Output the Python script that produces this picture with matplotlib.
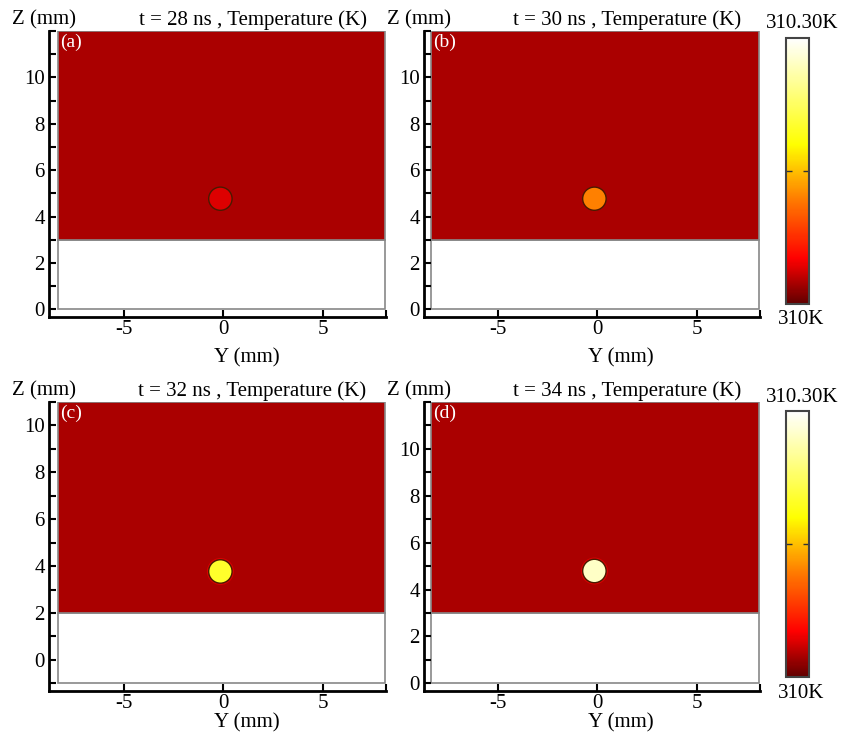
import matplotlib
matplotlib.use('Agg')
import matplotlib.pyplot as plt
from matplotlib.colors import LinearSegmentedColormap, Normalize
from matplotlib.patches import Rectangle, Ellipse
from matplotlib.ticker import MultipleLocator, FixedLocator
import matplotlib.cm as cm

plt.rcParams['font.family'] = ['Liberation Serif', 'DejaVu Serif']

# data
panel_labels = ['(a)', '(b)', '(c)', '(d)']
times_ns = [28, 30, 32, 34]
T_background = [310.024, 310.024, 310.024, 310.024]
T_sphere = [310.04, 310.12, 310.20, 310.273]
z_bottom = [0, 0, -1, 0]
z_interface = [3, 3, 2, 3]
z_top = [12, 12, 11, 12]
y_domain = [-8.35, 8.15]
sphere_y = [-0.15, -0.15, -0.15, -0.15]
sphere_z = [4.77, 4.77, 3.77, 4.79]
sphere_halo = [False, False, True, True]
T_min, T_max = 310.0, 310.30

cmap = LinearSegmentedColormap.from_list('heat', [
    (0.0, (0.38, 0.0, 0.0)),
    (0.17, (1.0, 0.0, 0.0)),
    (0.40, (1.0, 0.5, 0.0)),
    (0.60, (1.0, 1.0, 0.0)),
    (1.0, (1.0, 1.0, 1.0))])
norm = Normalize(T_min, T_max)

W, H = 848, 734
fig = plt.figure(figsize=(W / 100, H / 100), dpi=100)


def px_axes(x0, y0, x1, y1):
    return fig.add_axes([x0 / W, 1 - y1 / H, (x1 - x0) / W, (y1 - y0) / H])


# axes boxes in pixels (left, top, right, bottom)
boxes = [(49, 31, 386, 317), (424, 31, 760, 317),
         (49, 402, 386, 691), (424, 402, 760, 691)]
xlims = [(-8.79, 8.2), (-8.72, 8.18), (-8.79, 8.2), (-8.72, 8.18)]

for i in range(4):
    x0, y0, x1, y1 = boxes[i]
    ax = px_axes(x0, y0, x1, y1)
    ax.set_xlim(*xlims[i])
    ax.set_ylim(z_bottom[i] - 0.33, z_top[i])
    bg = cmap(norm(T_background[i]))
    ax.add_patch(Rectangle((y_domain[0], z_bottom[i]), y_domain[1] - y_domain[0],
                           z_interface[i] - z_bottom[i], facecolor='white',
                           edgecolor='#888888', lw=1.2, zorder=1))
    ax.add_patch(Rectangle((y_domain[0], z_interface[i]), y_domain[1] - y_domain[0],
                           z_top[i] - z_interface[i], facecolor=bg,
                           edgecolor='#888888', lw=1.2, zorder=1))
    if sphere_halo[i]:
        ax.add_patch(Ellipse((sphere_y[i], sphere_z[i]), 1.36, 1.15,
                             facecolor='#d80000', edgecolor='none', zorder=2))
    ax.add_patch(Ellipse((sphere_y[i], sphere_z[i]), 1.18, 1.0,
                         facecolor=cmap(norm(T_sphere[i])), edgecolor='#4a1a00',
                         lw=1.0, zorder=3))
    ax.text(y_domain[0] + 0.1, z_top[i] - 0.12, panel_labels[i], color='white',
            fontsize=14, ha='left', va='top', zorder=4)

    for s in ['top', 'right']:
        ax.spines[s].set_visible(False)
    for s in ['left', 'bottom']:
        ax.spines[s].set_linewidth(2)
    ax.patch.set_visible(False)
    ax.xaxis.set_major_locator(FixedLocator([-5, 0, 5]))
    ax.xaxis.set_minor_locator(FixedLocator([xlims[i][1]]))
    ax.yaxis.set_major_locator(FixedLocator([0, 2, 4, 6, 8, 10]))
    ax.yaxis.set_minor_locator(MultipleLocator(1))
    ax.tick_params(which='major', direction='in', length=5, width=1.5,
                   labelsize=15, pad=3)
    ax.tick_params(axis='x', which='major', pad=2)
    ax.tick_params(which='minor', direction='in', length=5, width=1.5)
    ax.set_xticklabels(['-5', '0', '5'])

    cx = (x0 + x1) / 2
    ylab_y = y1 + 41 if i < 2 else y1 + 32
    fig.text((cx + 29) / W, 1 - ylab_y / H, 'Y (mm)', fontsize=15,
             ha='center', va='center')
    fig.text((x0 - 37) / W, 1 - (y0 - 11) / H, 'Z (mm)', fontsize=15,
             ha='left', va='center')
    fig.text((cx + 35) / W, 1 - (y0 - 11) / H,
             't = %d ns , Temperature (K)' % times_ns[i], fontsize=15,
             ha='center', va='center')

# colorbars
sm = cm.ScalarMappable(norm=norm, cmap=cmap)
for (cy0, cy1) in [(38, 304), (411, 677)]:
    cax = px_axes(786, cy0, 809, cy1)
    cb = fig.colorbar(sm, cax=cax)
    cb.outline.set_edgecolor('#444444')
    cb.outline.set_linewidth(1.5)
    cb.set_ticks([(T_min + T_max) / 2])
    cax.tick_params(left=True, right=True, direction='in', length=4,
                    width=1, labelright=False, colors='#333333')
    fig.text(802 / W, 1 - (cy0 - 14) / H, '%.2fK' % T_max, fontsize=15,
             ha='center', va='center')
    fig.text(801 / W, 1 - (cy1 + 16) / H, '%dK' % T_min, fontsize=15,
             ha='center', va='center')

fig.savefig('out.png', dpi=100)
